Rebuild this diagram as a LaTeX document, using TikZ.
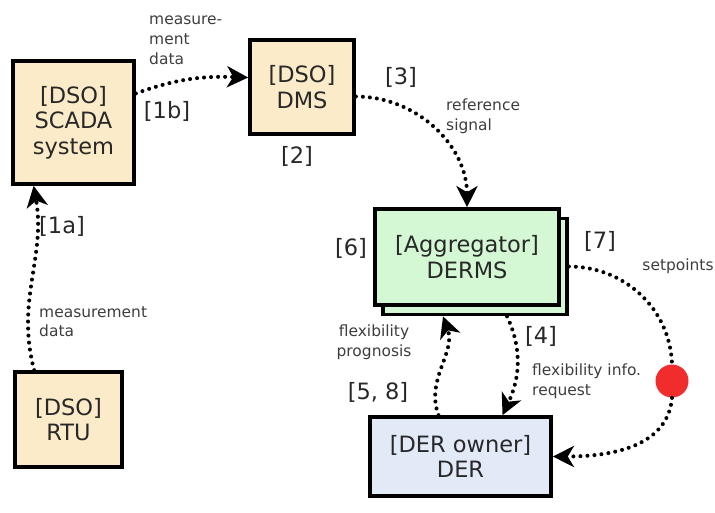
\documentclass[tikz,border=0pt]{standalone}
\usepackage{fontspec}
\setmainfont{DejaVu Sans}
\usetikzlibrary{arrows.meta,calc}
\definecolor{dsobg}{RGB}{252,235,201}
\definecolor{aggbg}{RGB}{212,247,212}
\definecolor{derbg}{RGB}{226,234,248}
\definecolor{dotred}{RGB}{240,44,44}
\definecolor{txt}{RGB}{40,40,40}
\begin{document}
\begin{tikzpicture}[x=0.02cm,y=-0.02cm,
    box/.style={draw=black,line width=2.1pt,inner sep=0pt,align=center,text=txt,
        font=\fontsize{12.8}{14.6}\selectfont},
    num/.style={text=txt,font=\fontsize{12.8}{14.6}\selectfont},
    lbl/.style={text=txt!90,align=left,font=\fontsize{8.8}{11.2}\selectfont},
    dots/.style={line width=2.3pt,dash pattern=on 0pt off 4pt,line cap=round},
    flow/.style={dots,-{Stealth[length=12pt,width=12pt,inset=3.5pt]}}]
    \useasboundingbox (0,0) rectangle (715,512);
    % Kaesten
    \node[box,fill=dsobg,minimum width=2.42cm,minimum height=2.46cm] (scada) at (73.5,122.5) {[DSO]\\SCADA\\system};
    \node[box,fill=dsobg,minimum width=2.08cm,minimum height=1.88cm] (dms) at (302,87) {[DSO]\\DMS};
    \node[box,fill=dsobg,minimum width=2.14cm,minimum height=1.9cm] (rtu) at (68.5,419.5) {[DSO]\\RTU};
    \node[box,fill=aggbg,minimum width=3.68cm,minimum height=1.92cm] (aggback) at (475,266.5) {};
    \node[box,fill=aggbg,minimum width=3.68cm,minimum height=1.92cm] (agg) at (467,257) {[Aggregator]\\DERMS};
    \node[box,fill=derbg,minimum width=3.62cm,minimum height=1.58cm] (der) at (460.5,456.5) {[DER owner]\\DER};
    \node[circle,fill=dotred,inner sep=0pt,minimum size=0.66cm] (dot) at (672,381) {};

    % Pfeile
    \draw[flow] ($(rtu.north west)!0.19!(rtu.north east)$) to[out=105,in=-80] ($(scada.south west)!0.18!(scada.south east)$);
    \draw[flow] (scada.25) to[out=20,in=178] (dms.170);
    \draw[flow] (dms.-10) to[out=0,in=90] (agg.north);
    \draw[flow] ($(aggback.south)+(32,0)$) to[out=-65,in=65] ($(der.north)+(42,0)$);
    \draw[flow] ($(der.north)+(-22,0)$) to[out=110,in=-70] ($(aggback.south)+(-32,0)$);
    \draw[dots] (aggback.east) to[out=0,in=92] (dot.north);
    \draw[flow] (dot.south) to[out=-95,in=0] (der.east);

    % Beschriftungen
    \node[lbl,anchor=north west] (l1b) at (143,10) {measure-\\ment\\data};
    \node[num] (n1b) at (167,111) {[1b]};
    \node[num] (n2) at (297,156) {[2]};
    \node[num] (n3) at (401,77) {[3]};
    \node[lbl,anchor=north west] (l3) at (440,93) {reference\\signal};
    \node[num] (n1a) at (62,226) {[1a]};
    \node[lbl,anchor=north west] (l1a) at (33,300) {measurement\\data};
    \node[num] (n6) at (351,248) {[6]};
    \node[num] (n7) at (600,241) {[7]};
    \node[lbl] (lset) at (678,266) {setpoints};
    \node[num] (n4) at (541,336) {[4]};
    \node[lbl,anchor=north west] (l4) at (526,358) {flexibility info.\\request};
    \node[lbl,align=center] (l5) at (374,342) {flexibility\\prognosis};
    \node[num] (n5) at (378,392) {[5, 8]};
\end{tikzpicture}
\end{document}
